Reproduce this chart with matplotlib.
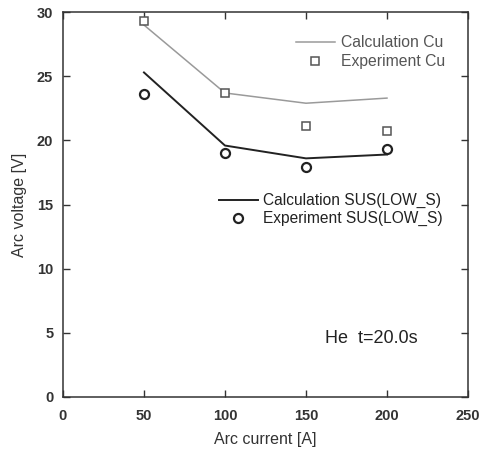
import matplotlib
matplotlib.use("Agg")
import matplotlib.pyplot as plt

plt.rcParams['font.family'] = ['Liberation Sans', 'DejaVu Sans']

current = [50, 100, 150, 200]
calc_cu = [29.0, 23.7, 22.9, 23.3]
exp_cu = [29.3, 23.7, 21.1, 20.7]
calc_sus = [25.3, 19.6, 18.6, 18.9]
exp_sus = [23.6, 19.0, 17.95, 19.3]

xticks = [0, 50, 100, 150, 200, 250]
yticks = [0, 5, 10, 15, 20, 25, 30]

fig = plt.figure(figsize=(4.88, 4.51), dpi=100)
ax = fig.add_axes([0.129, 0.12, 0.830, 0.853])

l1, = ax.plot(current, calc_cu, color='#9a9a9a', lw=1.1, label='Calculation Cu')
m1, = ax.plot(current, exp_cu, ls='none', marker='s', ms=6, mfc='white',
              mec='#555555', mew=1.1, label='Experiment Cu')
l2, = ax.plot(current, calc_sus, color='#222222', lw=1.4, label='Calculation SUS(LOW_S)')
m2, = ax.plot(current, exp_sus, ls='none', marker='o', ms=6.5, mfc='white',
              mec='#222222', mew=1.6, label='Experiment SUS(LOW_S)')

ax.set_xlim(0, 250)
ax.set_ylim(0, 30)
ax.set_xticks(xticks)
ax.set_yticks(yticks)
ax.tick_params(direction='in', top=True, right=True, length=5, width=1,
               labelsize=10.5, colors='#333333')
ax.tick_params(axis='x', pad=9)
ax.tick_params(axis='y', pad=7)
for lab in ax.get_xticklabels() + ax.get_yticklabels():
    lab.set_fontweight('bold')
for s in ax.spines.values():
    s.set_linewidth(1.1)
    s.set_color('#333333')

ax.set_xlabel('Arc current [A]', fontsize=11.5, color='#333333', labelpad=6)
ax.set_ylabel('Arc voltage [V]', fontsize=11.5, color='#333333', labelpad=7)

leg1 = ax.legend(handles=[l1, m1], loc='upper left', bbox_to_anchor=(0.575, 0.94),
                 frameon=False, fontsize=11.3, handlelength=2.5, handletextpad=0.35,
                 labelspacing=0.25, borderpad=0, borderaxespad=0, labelcolor='#555555')
ax.add_artist(leg1)
ax.legend(handles=[l2, m2], loc='upper left', bbox_to_anchor=(0.385, 0.53),
          frameon=False, fontsize=11.2, handlelength=2.5, handletextpad=0.35,
          labelspacing=0.2, borderpad=0, borderaxespad=0, labelcolor='#222222')

ax.text(0.647, 0.152, 'He  t=20.0s', transform=ax.transAxes, fontsize=13,
        color='#222222', va='center', ha='left')

fig.savefig('out.png', dpi=100)
